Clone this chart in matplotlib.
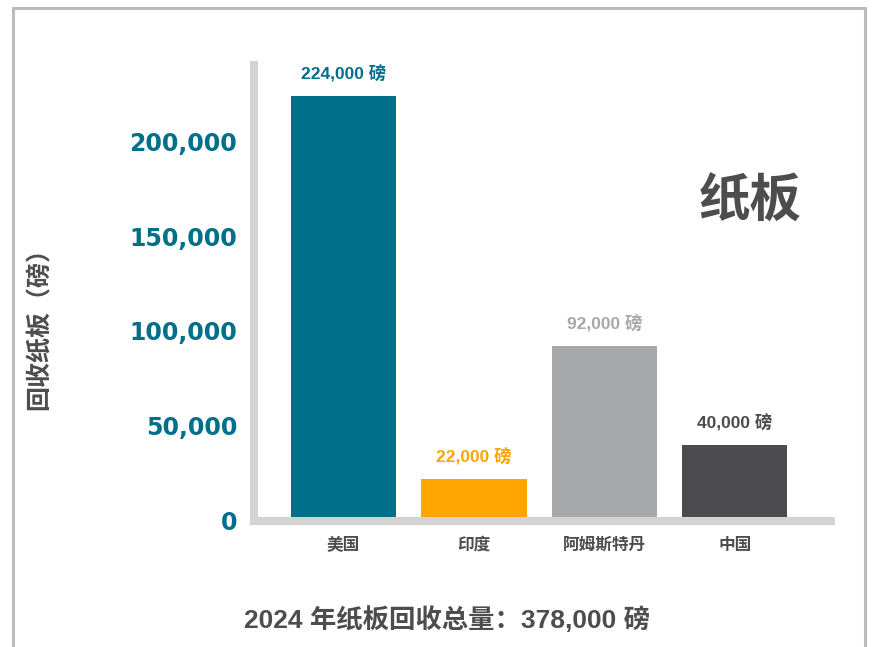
import matplotlib
matplotlib.use("Agg")
import matplotlib.pyplot as plt
from matplotlib.patches import Rectangle

categories = ["美国", "印度", "阿姆斯特丹", "中国"]
values = [224000, 22000, 92000, 40000]
value_labels = ["224,000 磅", "22,000 磅", "92,000 磅", "40,000 磅"]
bar_colors = ["#00708a", "#ffa400", "#a7a8aa", "#4b4b4d"]
yticks = [0, 50000, 100000, 150000, 200000]
ytick_labels = ["0", "50,000", "100,000", "150,000", "200,000"]

TEAL = "#00708a"
TEXT = "#4d4d4f"
SPINE = "#d3d3d3"
cjk = ["Noto Sans CJK SC", "DejaVu Sans"]
lat = ["Liberation Sans", "Noto Sans CJK SC"]

plt.rcParams["font.family"] = ["DejaVu Sans", "Noto Sans CJK SC"]

W, H = 873, 647
fig = plt.figure(figsize=(W / 100, H / 100), dpi=100)
ax = fig.add_axes([254 / W, (H - 520.5) / H, (831 - 254) / W, (520.5 - 65) / H])

x = range(len(categories))
ax.bar(x, values, width=0.805, color=bar_colors, zorder=2)
ax.set_xlim(-0.686, 3.736)
ax.set_ylim(0, 240360)

for i, v in enumerate(values):
    ax.annotate(value_labels[i], (i, v), xytext=(0, 16), textcoords="offset points",
                ha="center", va="center", fontsize=12.5, fontweight="bold",
                color=bar_colors[i], family=lat)

ax.set_xticks(list(x))
ax.set_xticklabels(categories, family=cjk, fontsize=12, fontweight="bold", color=TEXT)
ax.set_yticks(yticks)
ax.set_yticklabels(ytick_labels, fontsize=17, fontweight="bold", color=TEAL)
ax.tick_params(axis="both", length=0)
ax.tick_params(axis="x", pad=11)
ax.tick_params(axis="y", pad=12)

for s in ["top", "right"]:
    ax.spines[s].set_visible(False)
for s in ["left", "bottom"]:
    ax.spines[s].set_linewidth(5.8)
    ax.spines[s].set_color(SPINE)
    ax.spines[s].set_zorder(3)
ax.spines["left"].set_capstyle("projecting")
ax.spines["bottom"].set_capstyle("projecting")

fig.text(40 / W, 1 - 322 / H, "回收纸板（磅）", rotation=90, ha="center", va="center",
         fontsize=18, fontweight="bold", color=TEXT, family=cjk)
fig.text(750 / W, 1 - 201 / H, "纸板", ha="center", va="center",
         fontsize=37, fontweight="bold", color=TEXT, family=cjk)
fig.text(447 / W, 1 - 620 / H, "2024 年纸板回收总量：378,000 磅", ha="center", va="center",
         fontsize=19, fontweight="bold", color=TEXT, family=lat)

fig.add_artist(Rectangle((13 / W, -0.05), (865 - 13) / W, 1.05 - 8 / H,
                         transform=fig.transFigure, fill=False, lw=2.2, ec="#bcbcc0"))

fig.savefig("out.png", dpi=100)
